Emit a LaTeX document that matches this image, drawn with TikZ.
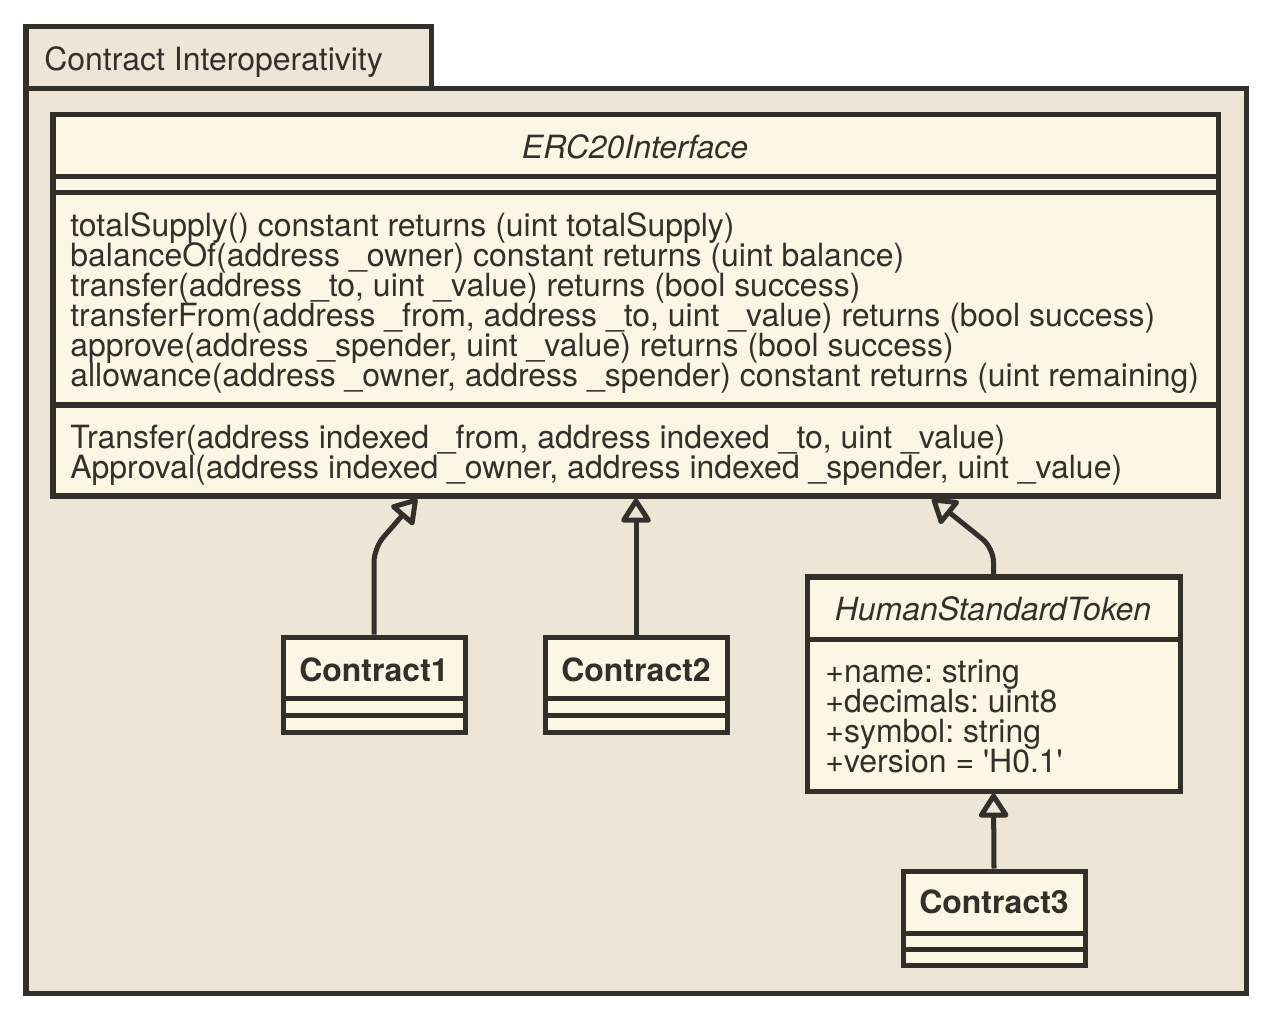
\documentclass[tikz,border=0pt]{standalone}
\usepackage{fontspec}
\setmainfont{TeX Gyre Heros}
\usetikzlibrary{arrows.meta,fit}
\frenchspacing

\definecolor{ink}{HTML}{33302B}
\definecolor{pkgbg}{HTML}{EDE6D6}
\definecolor{classbg}{HTML}{FCF6E4}

\tikzset{
  pkgbox/.style={draw=ink, fill=pkgbg, line width=2.85pt, inner sep=0pt},
  classbox/.style={draw=ink, fill=classbg, line width=2.85pt, inner sep=0pt},
  sep/.style={draw=ink, line width=2.85pt},
  txt/.style={inner sep=0pt, text=ink, font=\fontsize{18.2}{20}\selectfont},
  member/.style={txt, anchor=base west},
  cname/.style={txt, anchor=base, font=\fontsize{18.2}{20}\selectfont\bfseries},
  iname/.style={txt, anchor=base, font=\fontsize{18.2}{20}\selectfont\itshape},
  inherit/.style={draw=ink, line width=2.85pt, rounded corners=8pt,
    -{Triangle[open, round, length=15pt, width=18.5pt]}}
}

\begin{document}
\begin{tikzpicture}[x=0.02cm, y=-0.02cm]
  \useasboundingbox (0,0) rectangle (1270,1016);

  % package
  \node[pkgbox, fit={(26,27) (431,89)}] (tab) {};
  \node[pkgbox, fit={(26,89) (1246,993)}] (pkg) {};
  \node[member] (pkgname) at (44,71) {Contract Interoperativity};

  % ERC20Interface
  \node[classbox, fit={(53,115) (1218,496)}] (erc) {};
  \node[iname] (ercname) at (635,159) {ERC20Interface};
  \draw[sep] (erc.west |- 0,177) -- (erc.east |- 0,177);
  \draw[sep] (erc.west |- 0,193) -- (erc.east |- 0,193);
  \draw[sep] (erc.west |- 0,405) -- (erc.east |- 0,405);
  \foreach \txt [count=\i] in {
      {totalSupply() constant returns (uint totalSupply)},
      {balanceOf(address \_owner) constant returns (uint balance)},
      {transfer(address \_to, uint \_value) returns (bool success)},
      {transferFrom(address \_from, address \_to, uint \_value) returns (bool success)},
      {approve(address \_spender, uint \_value) returns (bool success)},
      {allowance(address \_owner, address \_spender) constant returns (uint remaining)}}
    \node[member] (op\i) at (70,207+30*\i) {\txt};
  \foreach \txt [count=\i] in {
      {Transfer(address indexed \_from, address indexed \_to, uint \_value)},
      {Approval(address indexed \_owner, address indexed \_spender, uint \_value)}}
    \node[member] (ev\i) at (70,418+30*\i) {\txt};

  % HumanStandardToken
  \node[classbox, fit={(807,577) (1180,791)}] (hst) {};
  \node[iname] (hstname) at (993,620) {HumanStandardToken};
  \draw[sep] (hst.west |- 0,639) -- (hst.east |- 0,639);
  \foreach \txt [count=\i] in {
      {+name: string}, {+decimals: uint8}, {+symbol: string},
      {+version = \textquotesingle H0.1\textquotesingle}}
    \node[member] (at\i) at (825,652+30*\i) {\txt};

  % contracts
  \node[classbox, fit={(283,637) (465,732)}] (c1) {};
  \node[cname] (c1name) at (c1.north |- 0,681) {Contract1};
  \node[classbox, fit={(545,637) (727,732)}] (c2) {};
  \node[cname] (c2name) at (c2.north |- 0,681) {Contract2};
  \node[classbox, fit={(903,871) (1085,965)}] (c3) {};
  \node[cname] (c3name) at (c3.north |- 0,913) {Contract3};
  \foreach \c/\ya/\yb in {c1/698/715, c2/698/715, c3/933/949} {
    \draw[sep] (\c.west |- 0,\ya) -- (\c.east |- 0,\ya);
    \draw[sep] (\c.west |- 0,\yb) -- (\c.east |- 0,\yb);
  }

  % generalisation
  \draw[inherit] (c1.north) -- (c1.north |- 0,548) -- (erc.south -| 417,0);
  \draw[inherit] (c2.north) -- (erc.south -| c2.north);
  \draw[inherit] (hst.north) -- (hst.north |- 0,548) -- (erc.south -| 932,0);
  \draw[inherit] (c3.north) -- (hst.south);
\end{tikzpicture}
\end{document}
